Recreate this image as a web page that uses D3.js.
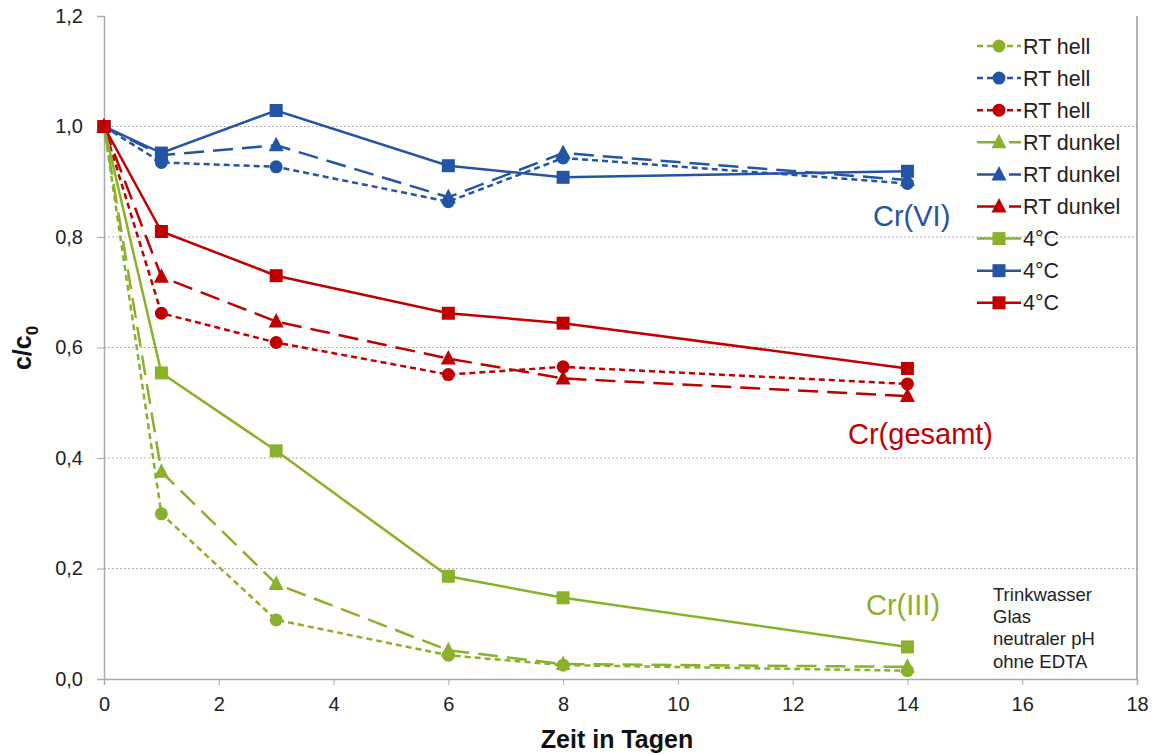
<!DOCTYPE html>
<meta charset="utf-8">
<script src="https://d3js.org/d3.v7.min.js"></script>
<style>
  body { margin: 0; background: #fff; }
  text { font-family: "Liberation Sans", Arial, sans-serif; }
</style>
<body>
<div id="chart"></div>
<script>
// days of measurement
var days = [0, 1, 3, 6, 8, 14];

// c/c0 values
var greenHell   = [1.0, 0.299, 0.107, 0.043, 0.025, 0.015];
var blueHell    = [1.0, 0.935, 0.927, 0.864, 0.943, 0.897];
var redHell     = [1.0, 0.662, 0.609, 0.551, 0.565, 0.534];
var greenDunkel = [1.0, 0.375, 0.172, 0.052, 0.027, 0.022];
var blueDunkel  = [1.0, 0.948, 0.966, 0.872, 0.952, 0.903];
var redDunkel   = [1.0, 0.728, 0.647, 0.580, 0.544, 0.512];
var green4C     = [1.0, 0.554, 0.413, 0.186, 0.147, 0.058];
var blue4C      = [1.0, 0.952, 1.029, 0.929, 0.908, 0.919];
var red4C       = [1.0, 0.810, 0.730, 0.662, 0.644, 0.562];

var xTicks = [0, 2, 4, 6, 8, 10, 12, 14, 16, 18];
var yTicks = [0, 0.2, 0.4, 0.6, 0.8, 1.0, 1.2];

var green = "#8ab12a", blue = "#2455a4", red = "#c00000";

var series = [
  {name: "RT hell",   values: greenHell,   color: green, kind: "hell"},
  {name: "RT hell",   values: blueHell,    color: blue,  kind: "hell"},
  {name: "RT hell",   values: redHell,     color: red,   kind: "hell"},
  {name: "RT dunkel", values: greenDunkel, color: green, kind: "dunkel"},
  {name: "RT dunkel", values: blueDunkel,  color: blue,  kind: "dunkel"},
  {name: "RT dunkel", values: redDunkel,   color: red,   kind: "dunkel"},
  {name: "4°C",       values: green4C,     color: green, kind: "kalt"},
  {name: "4°C",       values: blue4C,      color: blue,  kind: "kalt"},
  {name: "4°C",       values: red4C,       color: red,   kind: "kalt"}
];

var dashes = {hell: "6,4", dunkel: "20,9", kalt: null};

var margin = {top: 16, right: 21, bottom: 75, left: 104},
  width = 1158 - margin.left - margin.right,
  height = 754 - margin.top - margin.bottom;

var svg = d3.select("#chart").append("svg")
  .attr("width", 1158)
  .attr("height", 754);

var g = svg.append("g")
  .attr("transform", "translate(" + margin.left + "," + margin.top + ")");

var x = d3.scaleLinear().domain([0, 18]).range([0, width]);
var y = d3.scaleLinear().domain([0, 1.2]).range([height, 0]);

// gridlines
g.selectAll(".grid")
  .data(yTicks.filter(function(d) { return d > 0 && d < 1.2; }))
  .enter().append("line")
  .attr("x1", 0).attr("x2", width)
  .attr("y1", function(d) { return y(d); })
  .attr("y2", function(d) { return y(d); })
  .attr("stroke", "#b0b0b0")
  .attr("stroke-dasharray", "2,2");

// right border
g.append("line")
  .attr("x1", width).attr("x2", width)
  .attr("y1", 0).attr("y2", height)
  .attr("stroke", "#666");

var fmt = function(d) { return d3.format(".1f")(d).replace(".", ","); };

var yAxis = g.append("g")
  .call(d3.axisLeft(y).tickValues(yTicks).tickFormat(fmt).tickSize(7).tickPadding(14));
var xAxis = g.append("g")
  .attr("transform", "translate(0," + height + ")")
  .call(d3.axisBottom(x).tickValues(xTicks).tickSize(6).tickPadding(12));

[yAxis, xAxis].forEach(function(a) {
  a.select(".domain").attr("stroke", "#aaa").attr("stroke-width", 1.5);
  a.selectAll(".tick line").attr("stroke", "#aaa");
  a.selectAll("text").attr("font-size", 20).attr("fill", "#222")
    .attr("font-family", "Liberation Sans, Arial, sans-serif");
});

// axis titles
var yt = svg.append("text")
  .attr("transform", "translate(31,348) rotate(-90)")
  .attr("text-anchor", "middle")
  .attr("font-size", 25).attr("font-weight", "bold").attr("fill", "#111");
yt.append("tspan").text("c/c");
yt.append("tspan").text("0").attr("font-size", 17).attr("dy", 7);

svg.append("text")
  .attr("x", 617).attr("y", 748)
  .attr("text-anchor", "middle")
  .attr("font-size", 25).attr("font-weight", "bold").attr("fill", "#111")
  .text("Zeit in Tagen");

var line = d3.line()
  .x(function(d) { return x(d[0]); })
  .y(function(d) { return y(d[1]); });

function drawMarker(sel, kind, color) {
  if (kind === "hell") {
    sel.append("circle").attr("r", 6.5).attr("fill", color);
  } else if (kind === "dunkel") {
    sel.append("path").attr("d", "M0,-8.5L7.5,6L-7.5,6Z").attr("fill", color);
  } else {
    sel.append("rect").attr("x", -6.5).attr("y", -6.5).attr("width", 13).attr("height", 13).attr("fill", color);
  }
}

series.forEach(function(s) {
  var pts = days.map(function(d, i) { return [d, s.values[i]]; });
  g.append("path")
    .datum(pts)
    .attr("d", line)
    .attr("fill", "none")
    .attr("stroke", s.color)
    .attr("stroke-width", 2.5)
    .attr("stroke-dasharray", dashes[s.kind]);
  pts.forEach(function(p) {
    var m = g.append("g").attr("transform", "translate(" + x(p[0]) + "," + y(p[1]) + ")");
    drawMarker(m, s.kind, s.color);
  });
});

// legend
var legend = svg.append("g").attr("transform", "translate(977,46)");
series.forEach(function(s, i) {
  var row = legend.append("g").attr("transform", "translate(0," + (i * 32.1) + ")");
  row.append("line")
    .attr("x1", 0).attr("x2", 44)
    .attr("stroke", s.color).attr("stroke-width", 2.5)
    .attr("stroke-dasharray", s.kind === "dunkel" ? "24,8,12" : dashes[s.kind]);
  var m = row.append("g").attr("transform", "translate(22,0)");
  drawMarker(m, s.kind, s.color);
  row.append("text")
    .attr("x", 46).attr("y", 7.5)
    .attr("font-size", 21.5).attr("fill", "#222")
    .text(s.name);
});

// series group labels
svg.append("text").attr("x", 873).attr("y", 226).attr("font-size", 29).attr("fill", blue).text("Cr(VI)");
svg.append("text").attr("x", 848).attr("y", 444).attr("font-size", 29).attr("fill", red).text("Cr(gesamt)");
svg.append("text").attr("x", 866).attr("y", 615).attr("font-size", 29).attr("fill", green).text("Cr(III)");

// sample note
var note = ["Trinkwasser", "Glas", "neutraler pH", "ohne EDTA"];
svg.append("g").selectAll("text")
  .data(note)
  .enter().append("text")
  .attr("x", 993)
  .attr("y", function(d, i) { return 601 + i * 22.2; })
  .attr("font-size", 18.5).attr("fill", "#222")
  .text(function(d) { return d; });
</script>
</body>
